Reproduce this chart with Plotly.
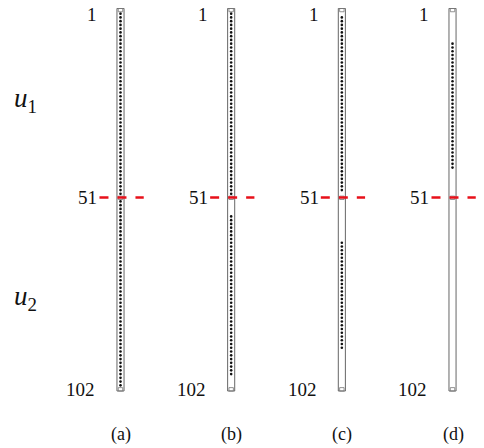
import plotly.graph_objects as go

# rows that carry a dot in each panel (1..102 grid, 51 is the split)
panels = ["(a)", "(b)", "(c)", "(d)"]
filled_rows = [
    list(range(2, 51)) + list(range(52, 102)),
    list(range(2, 51)) + list(range(56, 99)),
    list(range(3, 50)) + list(range(63, 92)),
    list(range(10, 44)),
]
row_ticks = [1, 51, 102]
split_row = 51
n_rows = 102

fig = go.Figure()
hw = 0.032
serif = "Liberation Serif, DejaVu Serif, serif"

for i, rows in enumerate(filled_rows):
    fig.add_trace(go.Scatter(x=[i] * len(rows), y=rows, mode="markers",
                             marker=dict(size=2.6, color="#111"), showlegend=False,
                             hoverinfo="skip"))
    # outer bar
    fig.add_shape(type="rect", x0=i - hw, x1=i + hw, y0=0.6, y1=n_rows + 0.5,
                  line=dict(color="#666", width=1))
    # small cells at row 1, 51, 102
    for r in [1, split_row, n_rows]:
        fig.add_shape(type="rect", x0=i - hw + 0.012, x1=i + hw - 0.012, y0=r - 0.4, y1=r + 0.5,
                      line=dict(color="#777", width=0.8))
    fig.add_shape(type="line", x0=i - 0.19, x1=i + 0.21, y0=split_row, y1=split_row,
                  line=dict(color="#e8101a", width=2.5, dash="dash"))
    for r in row_ticks:
        fig.add_annotation(x=i - 0.19 - (0.02 if r == 102 else 0), y=r + (1.3 if r == 1 else 0),
                           text=str(r), showarrow=False, xanchor="right",
                           font=dict(family=serif, size=19, color="#111"))
    fig.add_annotation(x=i + 0.005, y=114.2, text=panels[i], showarrow=False,
                       font=dict(family=serif, size=18, color="#111"))

fig.add_annotation(x=-0.86, y=25, text="<i>u</i><sub>1</sub>", showarrow=False,
                   font=dict(family=serif, size=27, color="#111"))
fig.add_annotation(x=-0.86, y=77.7, text="<i>u</i><sub>2</sub>", showarrow=False,
                   font=dict(family=serif, size=27, color="#111"))

fig.update_layout(width=476, height=440, margin=dict(l=0, r=0, t=0, b=0),
                  plot_bgcolor="white", paper_bgcolor="white",
                  xaxis=dict(range=[-1.0165, 3.2845], visible=False),
                  yaxis=dict(range=[117.68, 0.5], visible=False))
fig.write_html("out.html")
